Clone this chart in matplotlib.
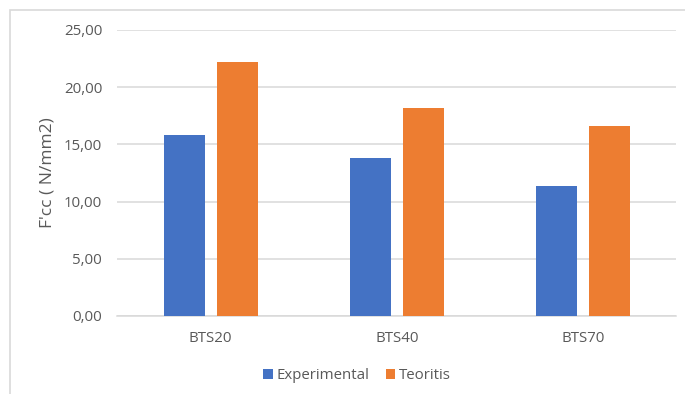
import matplotlib.pyplot as plt
import numpy as np
from matplotlib.patches import Rectangle
from matplotlib.ticker import FuncFormatter

# compressive strength per mix
samples = ['BTS20', 'BTS40', 'BTS70']
experimental = [15.82, 13.84, 11.34]
teoritis = [22.18, 18.15, 16.58]

plt.rcParams['font.family'] = ['Open Sans', 'DejaVu Sans']

blue = '#4472C4'
orange = '#ED7D31'
grey_text = '#595959'

fig = plt.figure(figsize=(6.85, 3.94), dpi=100)
ax = fig.add_axes([0.1715, 0.198, 0.8154, 0.7259])

x = np.arange(len(samples))
w = 0.22
off = 0.1425
ax.bar(x - off, experimental, w, color=blue, label='Experimental', zorder=3)
ax.bar(x + off, teoritis, w, color=orange, label='Teoritis', zorder=3)

ax.set_xlim(-0.5, len(samples) - 0.5)
ax.set_ylim(0, 25)
ax.set_yticks(np.arange(0, 26, 5))
ax.yaxis.set_major_formatter(FuncFormatter(lambda v, p: f'{v:.2f}'.replace('.', ',')))
ax.set_xticks(x)
ax.set_xticklabels(samples)

ax.grid(axis='y', color='#D9D9D9', linewidth=1.1, zorder=0)
for s in ['top', 'right', 'left']:
    ax.spines[s].set_visible(False)
ax.spines['bottom'].set_color('#D9D9D9')
ax.spines['bottom'].set_linewidth(1.1)

ax.tick_params(axis='y', length=0, pad=11, labelsize=10.8, labelcolor=grey_text)
ax.tick_params(axis='x', length=0, pad=11, labelsize=10.8, labelcolor=grey_text)
ax.set_ylabel("F'cc ( N/mm2)", fontsize=12.5, color=grey_text, labelpad=6)

fig.legend(loc='center', bbox_to_anchor=(0.521, 0.047), ncol=2, frameon=False,
           fontsize=10.8, labelcolor=grey_text, handlelength=0.65, handleheight=0.65,
           handletextpad=0.25, columnspacing=1.1)

# chart area frame
fig.patches.append(Rectangle((10 / 685, -0.1), 1.2, 0.1 + 1 - 10 / 394,
                             transform=fig.transFigure, fill=False,
                             edgecolor='#D9D9D9', linewidth=1.2))

fig.savefig('out.png', dpi=100)
